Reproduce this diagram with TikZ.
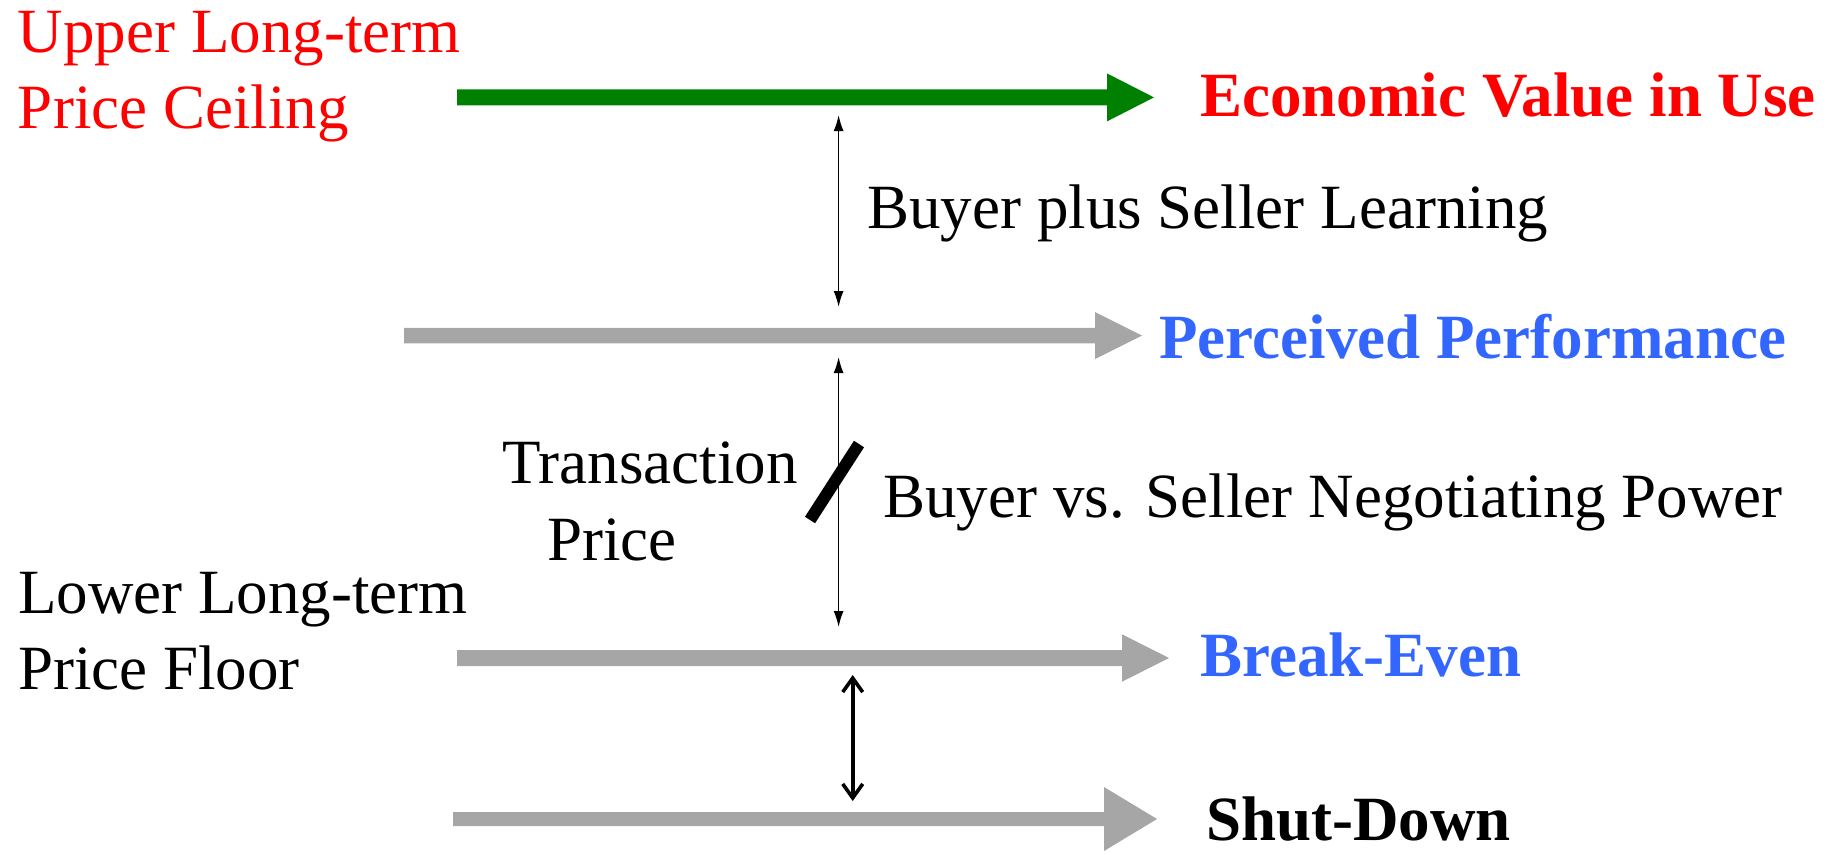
\documentclass[tikz,border=0pt]{standalone}
\usepackage{fontspec}
\setmainfont{Liberation Serif}
\usetikzlibrary{arrows.meta}
\definecolor{evgreen}{RGB}{0,128,0}
\definecolor{evred}{RGB}{255,0,0}
\definecolor{evblue}{RGB}{51,102,255}
\definecolor{evgray}{RGB}{166,166,166}
\newcommand\fatarrow[7]{%
  \fill[#1] (#2,#5-#6) -- (#3,#5-#6) -- (#3,#5-#7) -- (#4,#5) -- (#3,#5+#7) -- (#3,#5+#6) -- (#2,#5+#6) -- cycle;}
\tikzset{
  lbl/.style={inner sep=0pt, anchor=base west, font=\fontsize{31.5}{38}\selectfont, align=left},
  blbl/.style={lbl, font=\fontsize{31.5}{38}\selectfont\bfseries},
  thinarr/.style={line width=0.75pt, {Latex[length=8pt,width=5pt]}-{Latex[length=8pt,width=5pt]}},
  thickarr/.style={line width=1.8pt, {Straight Barb[length=7pt,width=10pt]}-{Straight Barb[length=7pt,width=10pt]}},
}
\begin{document}
\begin{tikzpicture}[x=0.5pt,y=-0.5pt]
\useasboundingbox (0,0) rectangle (1843,853);
% fat arrows
\fatarrow{evgreen}{457}{1107}{1154}{97.4}{8}{24}
\fatarrow{evgray}{404}{1095}{1142}{335.6}{7.7}{23.5}
\fatarrow{evgray}{457}{1122}{1169}{658}{8}{23.7}
\fatarrow{evgray}{453}{1104}{1157}{819}{7}{32}
% labels
\node[lbl, text=evred] (upper) at (17.6,128.5) {Upper Long-term\\Price Ceiling};
\node[blbl, text=evred] (evu) at (1200,116) {Economic Value in Use};
\node[lbl] (learn) at (867,228) {Buyer plus Seller Learning};
\node[blbl, text=evblue] (perc) at (1159,358) {Perceived Performance};
\node[lbl] (trans1) at (502,483) {Transaction};
\node[lbl] (trans2) at (547,560) {Price};
\node[lbl] (nego) at (883,517) {Buyer vs. Seller Negotiating Power};
\node[lbl] (lower) at (17.7,689) {Lower Long-term\\Price Floor};
\node[blbl, text=evblue] (be) at (1200,676) {Break-Even};
\node[blbl] (sd) at (1206,840.7) {Shut-Down};
% connectors
\coordinate (a1) at (838.6,115);
\coordinate (a2) at (838.6,307);
\coordinate (b1) at (838.6,357);
\coordinate (b2) at (838.6,627);
\coordinate (c1) at (852.7,675);
\coordinate (c2) at (852.7,801);
\coordinate (s1) at (810,520);
\coordinate (s2) at (859,444);
\draw[thinarr] (a1) -- (a2);
\draw[thinarr] (b1) -- (b2);
\draw[thickarr] (c1) -- (c2);
\draw[line width=6pt] (s1) -- (s2);
\end{tikzpicture}
\end{document}
